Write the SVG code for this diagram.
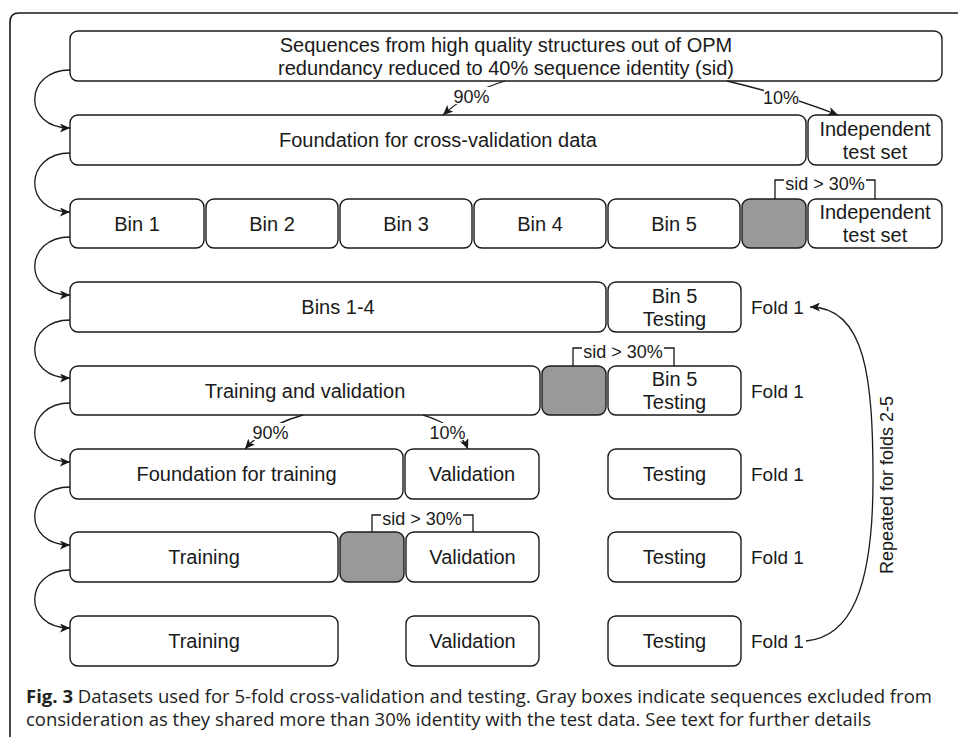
<svg xmlns="http://www.w3.org/2000/svg" width="958" height="737" viewBox="0 0 958 737">
<style>
.b{fill:#fff;stroke:#1a1a1a;stroke-width:1.4}
.g{fill:#999;stroke:#1a1a1a;stroke-width:1.4}
.t{font-family:"Liberation Sans",Arial,sans-serif;font-size:20px;fill:#1a1a1a;text-anchor:middle}
.f{font-family:"Liberation Sans",Arial,sans-serif;font-size:19px;fill:#1a1a1a}
.l{font-family:"Liberation Sans",Arial,sans-serif;font-size:18px;fill:#1a1a1a;text-anchor:middle}
.c{fill:none;stroke:#1a1a1a;stroke-width:1.3}
.cap{font-family:"Open Sans","Noto Sans",sans-serif;font-size:18px;fill:#222}
</style>
<defs>
<marker id="ah" markerWidth="11" markerHeight="9" refX="10" refY="4.5" orient="auto" markerUnits="userSpaceOnUse">
<path d="M0,0 L10,4.5 L0,9 L2.5,4.5 z" fill="#1a1a1a"/>
</marker>
</defs>
<rect width="958" height="737" fill="#fff"/>
<path d="M10,737 L10,22 Q10,13 19,13 L958,13" fill="none" stroke="#1a1a1a" stroke-width="1.6"/>

<g id="n-sequences"><rect class="b" x="70" y="31" width="872" height="50" rx="8"/><text class="t" x="506" y="51.5">Sequences from high quality structures out of OPM</text><text class="t" x="506" y="74.5">redundancy reduced to 40% sequence identity (sid)</text></g>
<g id="n-foundation-cv"><rect class="b" x="70" y="115" width="736" height="50" rx="8"/><text class="t" x="438" y="147">Foundation for cross-validation data</text></g>
<g id="n-indep1"><rect class="b" x="808" y="115" width="134" height="50" rx="8"/><text class="t" x="875" y="135.5">Independent</text><text class="t" x="875" y="158.5">test set</text></g>

<g id="n-bin1"><rect class="b" x="70" y="199" width="134" height="49" rx="8"/><text class="t" x="137" y="230.5">Bin 1</text></g>
<g id="n-bin2"><rect class="b" x="206" y="199" width="132" height="49" rx="8"/><text class="t" x="272" y="230.5">Bin 2</text></g>
<g id="n-bin3"><rect class="b" x="340" y="199" width="132" height="49" rx="8"/><text class="t" x="406" y="230.5">Bin 3</text></g>
<g id="n-bin4"><rect class="b" x="474" y="199" width="132" height="49" rx="8"/><text class="t" x="540" y="230.5">Bin 4</text></g>
<g id="n-bin5"><rect class="b" x="608" y="199" width="132" height="49" rx="8"/><text class="t" x="674" y="230.5">Bin 5</text></g>
<g id="n-gray1"><rect class="g" x="742" y="199" width="64" height="49" rx="8"/></g>
<g id="n-indep2"><rect class="b" x="808" y="199" width="134" height="49" rx="8"/><text class="t" x="875" y="219">Independent</text><text class="t" x="875" y="242">test set</text></g>

<g id="n-bins14"><rect class="b" x="70" y="282" width="536" height="50" rx="8"/><text class="t" x="338" y="314">Bins 1-4</text></g>
<g id="n-bin5test1"><rect class="b" x="608" y="282" width="133" height="50" rx="8"/><text class="t" x="674.5" y="302.5">Bin 5</text><text class="t" x="674.5" y="325.5">Testing</text></g>
<g id="n-fold1a"><text class="f" x="751" y="314">Fold 1</text></g>

<g id="n-trainval"><rect class="b" x="70" y="366" width="470" height="49" rx="8"/><text class="t" x="305" y="398">Training and validation</text></g>
<g id="n-gray2"><rect class="g" x="542" y="366" width="64" height="49" rx="8"/></g>
<g id="n-bin5test2"><rect class="b" x="608" y="366" width="133" height="49" rx="8"/><text class="t" x="674.5" y="386">Bin 5</text><text class="t" x="674.5" y="409">Testing</text></g>
<g id="n-fold1b"><text class="f" x="751" y="398">Fold 1</text></g>

<g id="n-foundtrain"><rect class="b" x="70" y="449" width="333" height="50" rx="8"/><text class="t" x="236.5" y="481">Foundation for training</text></g>
<g id="n-val1"><rect class="b" x="405" y="449" width="134" height="50" rx="8"/><text class="t" x="472" y="481">Validation</text></g>
<g id="n-test1"><rect class="b" x="608" y="449" width="133" height="50" rx="8"/><text class="t" x="674.5" y="481">Testing</text></g>
<g id="n-fold1c"><text class="f" x="751" y="481">Fold 1</text></g>

<g id="n-train1"><rect class="b" x="70" y="532" width="268" height="50" rx="8"/><text class="t" x="204" y="564">Training</text></g>
<g id="n-gray3"><rect class="g" x="340" y="532" width="64" height="50" rx="8"/></g>
<g id="n-val2"><rect class="b" x="406" y="532" width="133" height="50" rx="8"/><text class="t" x="472.5" y="564">Validation</text></g>
<g id="n-test2"><rect class="b" x="608" y="532" width="133" height="50" rx="8"/><text class="t" x="674.5" y="564">Testing</text></g>
<g id="n-fold1d"><text class="f" x="751" y="564">Fold 1</text></g>

<g id="n-train2"><rect class="b" x="70" y="616" width="268" height="50" rx="8"/><text class="t" x="204" y="648">Training</text></g>
<g id="n-val3"><rect class="b" x="406" y="616" width="133" height="50" rx="8"/><text class="t" x="472.5" y="648">Validation</text></g>
<g id="n-test3"><rect class="b" x="608" y="616" width="133" height="50" rx="8"/><text class="t" x="674.5" y="648">Testing</text></g>
<g id="n-fold1e"><text class="f" x="751" y="648">Fold 1</text></g>

<g id="connectors">
<path class="c" marker-end="url(#ah)" d="M70,70 C24,70 22,128 70,128"/>
<path class="c" marker-end="url(#ah)" d="M70,153 C24,153 22,212 70,212"/>
<path class="c" marker-end="url(#ah)" d="M70,237 C24,237 22,295 70,295"/>
<path class="c" marker-end="url(#ah)" d="M70,320 C24,320 22,378 70,378"/>
<path class="c" marker-end="url(#ah)" d="M70,403 C24,403 22,462 70,462"/>
<path class="c" marker-end="url(#ah)" d="M70,487 C24,487 22,545 70,545"/>
<path class="c" marker-end="url(#ah)" d="M70,570 C24,570 22,628 70,628"/>

<path class="c" marker-end="url(#ah)" d="M505,81 Q468,92 443,115"/>
<rect x="453" y="87" width="37" height="17" fill="#fff"/>
<text class="l" x="471.5" y="103">90%</text>
<path class="c" marker-end="url(#ah)" d="M727,81 Q790,96 838,115"/>
<rect x="764" y="89" width="35" height="17" fill="#fff"/>
<text class="l" x="781" y="104">10%</text>

<path class="c" marker-end="url(#ah)" d="M303,415 Q266,425 245,449"/>
<rect x="252" y="423" width="37" height="17" fill="#fff"/>
<text class="l" x="270.5" y="439">90%</text>
<path class="c" marker-end="url(#ah)" d="M423,415 Q458,425 468,449"/>
<rect x="430" y="423" width="35" height="17" fill="#fff"/>
<text class="l" x="447.5" y="439">10%</text>

<path class="c" d="M775,199 L775,180 L875,180 L875,199"/>
<rect x="784" y="175" width="82" height="16" fill="#fff"/>
<text class="l" x="825" y="190">sid &gt; 30%</text>
<path class="c" d="M573,366 L573,348 L674,348 L674,366"/>
<rect x="582" y="343" width="82" height="16" fill="#fff"/>
<text class="l" x="623" y="358">sid &gt; 30%</text>
<path class="c" d="M372,532 L372,515 L473,515 L473,532"/>
<rect x="381" y="510" width="82" height="16" fill="#fff"/>
<text class="l" x="422" y="525">sid &gt; 30%</text>

<path class="c" marker-end="url(#ah)" d="M806,641 C850,637 873,590 873,480 C873,380 866,307 810,307"/>
<text class="l" transform="translate(893,485) rotate(-90)">Repeated for folds 2-5</text>
</g>

<text class="cap" x="26" y="703" textLength="906" lengthAdjust="spacingAndGlyphs"><tspan font-weight="bold">Fig. 3</tspan> Datasets used for 5-fold cross-validation and testing. Gray boxes indicate sequences excluded from</text>
<text class="cap" x="26" y="726" textLength="845" lengthAdjust="spacingAndGlyphs">consideration as they shared more than 30% identity with the test data. See text for further details</text>
</svg>
